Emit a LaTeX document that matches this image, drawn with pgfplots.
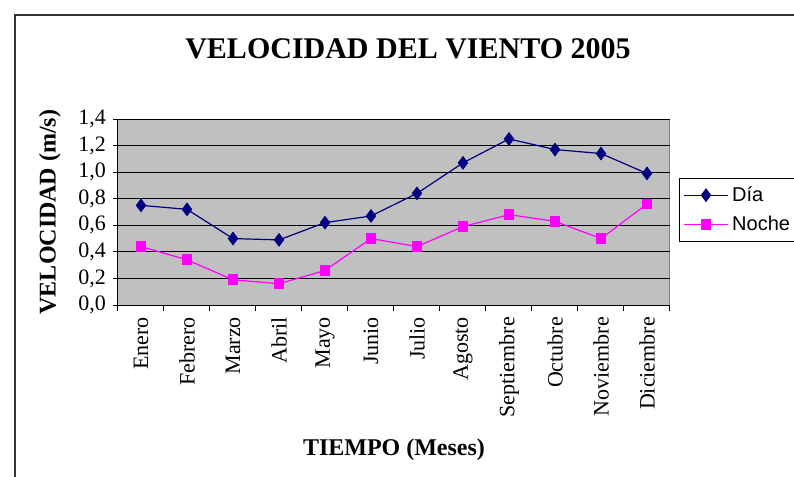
\documentclass[border=0pt]{standalone}
\usepackage{fontspec}
\setmainfont{Liberation Serif}
\newfontfamily\arial{Liberation Sans}
\usepackage{pgfplots}
\pgfplotsset{compat=1.18}
\definecolor{plotgray}{RGB}{192,192,192}
\definecolor{dianavy}{RGB}{0,0,128}
\definecolor{nochemag}{RGB}{255,0,255}
\begin{document}
\begin{tikzpicture}
\useasboundingbox (0,0) rectangle (397pt,-238.5pt);
% marco del grafico
\draw[line width=0.6pt, black!80] (7.5pt,-245pt) -- (7.5pt,-7.5pt) -- (405pt,-7.5pt);
\node[font=\bfseries\fontsize{15}{18}\selectfont] at (204pt,-24.5pt) {VELOCIDAD DEL VIENTO 2005};
\begin{axis}[
    at={(59pt,-152.5pt)}, anchor=south west,
    scale only axis, width=276pt, height=93pt,
    xmin=0.5, xmax=12.5, ymin=0, ymax=1.4,
    axis x line*=bottom, axis y line*=left,
    axis line style={black, line width=0.5pt, -},
    axis background/.style={fill=plotgray, draw=gray, line width=0.5pt},
    ytick={0,0.2,0.4,0.6,0.8,1.0,1.2,1.4},
    xtick={1,2,3,4,5,6,7,8,9,10,11,12},
    xticklabels={Enero,Febrero,Marzo,Abril,Mayo,Junio,Julio,Agosto,Septiembre,Octubre,Noviembre,Diciembre},
    minor xtick={0.5,1.5,2.5,3.5,4.5,5.5,6.5,7.5,8.5,9.5,10.5,11.5,12.5},
    major x tick style={draw=none},
    minor x tick style={black, line width=0.5pt},
    ytick style={black, line width=0.5pt},
    tick align=outside, major tick length=2.5pt, minor tick length=3pt,
    x tick label style={rotate=90, anchor=east, font=\fontsize{11}{13}\selectfont},
    y tick label style={font=\fontsize{11}{13}\selectfont},
    /pgf/number format/assume math mode=true,
    yticklabel style={/pgf/number format/.cd, use comma, fixed, fixed zerofill, precision=1},
    ymajorgrids, major grid style={black, line width=0.5pt},
    xlabel={TIEMPO (Meses)},
    ylabel={VELOCIDAD (m/s)},
    xlabel style={font=\bfseries\fontsize{12}{14}\selectfont, yshift=-4pt},
    ylabel style={font=\bfseries\fontsize{12}{14}\selectfont, yshift=2pt},
    legend style={at={(1.017,0.683)}, anchor=north west, draw=black, fill=white,
      font=\arial\fontsize{10}{12}\selectfont, row sep=2pt, inner sep=2pt},
    legend image code/.code={\draw[mark repeat=2, mark phase=2]
      plot coordinates {(0cm,0cm) (0.38cm,0cm) (0.76cm,0cm)};},
    legend cell align=left,
  ]
  \addplot[dianavy, line width=0.6pt, mark=diamond*, mark size=3pt]
  coordinates {
(1,0.75) (2,0.72) (3,0.50) (4,0.49) (5,0.62) (6,0.67)
(7,0.84) (8,1.07) (9,1.25) (10,1.17) (11,1.14) (12,0.99)
  };
  \addplot[nochemag, line width=0.6pt, mark=square*, mark size=2.4pt]
  coordinates {
(1,0.44) (2,0.34) (3,0.19) (4,0.16) (5,0.26) (6,0.50)
(7,0.44) (8,0.59) (9,0.68) (10,0.63) (11,0.50) (12,0.76)
  };
  \legend{D\'{\i}a, Noche}
\end{axis}
\end{tikzpicture}
\end{document}
